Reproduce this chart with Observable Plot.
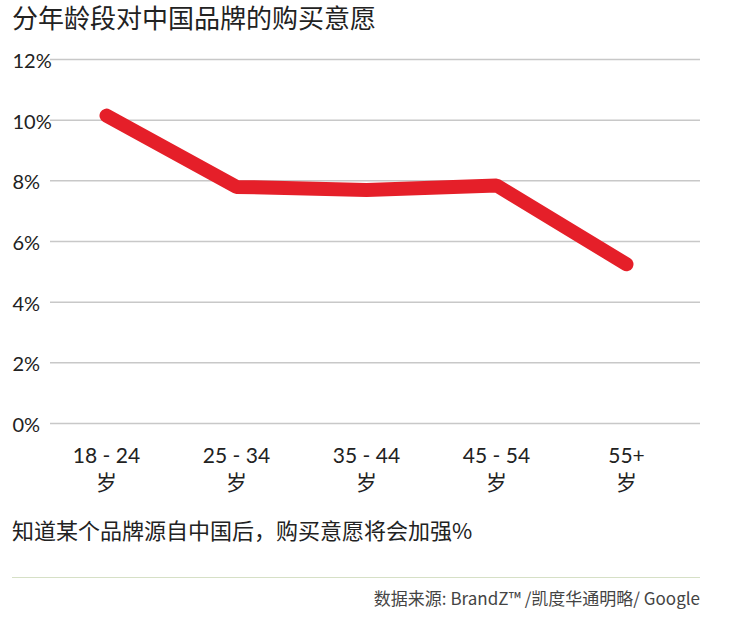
<!DOCTYPE html>
<html>
<head>
<meta charset="utf-8">
<script src="https://cdn.jsdelivr.net/npm/d3@7"></script>
<script src="https://cdn.jsdelivr.net/npm/@observablehq/plot@0.6"></script>
<style>
  body { margin: 0; background: #fff; font-family: Lato, "Noto Sans CJK SC", sans-serif; color: #222; }
  #wrap { position: relative; width: 752px; height: 621px; overflow: hidden; }
  #title { position: absolute; left: 12px; top: 2px; font-size: 26px; line-height: 30px; color: #222; font-family: "Noto Sans CJK SC", sans-serif; white-space: nowrap; }
  #chart { position: absolute; left: 0; top: 40px; }
  #caption { position: absolute; left: 12px; top: 514px; font-size: 22px; line-height: 30px; color: #222; font-family: "Noto Sans CJK SC", sans-serif; white-space: nowrap; }
  #sep { position: absolute; left: 12px; top: 577px; width: 688px; height: 0; border-top: 1.5px solid #d6e0c6; }
  #source { position: absolute; right: 52px; top: 585px; font-size: 17px; line-height: 26px; color: #444; font-family: "Noto Sans CJK SC", sans-serif; white-space: nowrap; }
</style>
</head>
<body>
<div id="wrap">
  <div id="title">分年龄段对中国品牌的购买意愿</div>
  <div id="chart"></div>
  <div id="caption">知道某个品牌源自中国后，购买意愿将会加强%</div>
  <div id="sep"></div>
  <div id="source">数据来源: BrandZ™ /凯度华通明略/ Google</div>
</div>
<script>
const ages = ["18 - 24", "25 - 34", "35 - 44", "45 - 54", "55+"];
const ageSuffix = "岁";
const values = [10.15, 7.8, 7.7, 7.85, 5.25];
const yTicks = [0, 2, 4, 6, 8, 10, 12];

const data = ages.map((a, i) => ({age: a, value: values[i]}));

const chart = Plot.plot({
  width: 752,
  height: 470,
  marginLeft: 50,
  marginRight: 52,
  marginTop: 19,
  marginBottom: 87,
  style: {fontFamily: 'Lato, "Noto Sans CJK SC", sans-serif', fontSize: "20px", color: "#222", background: "#fff"},
  x: {type: "point", domain: ages, range: [104, 627], padding: 0},
  y: {domain: [0, 12]},
  marks: [
    Plot.ruleY(yTicks, {stroke: "#c8c8c8", strokeWidth: 1.5}),
    Plot.axisY({ticks: yTicks, tickSize: 0, tickPadding: 0, textAnchor: "start", dx: -38, dy: 2,
      tickFormat: d => d + "%", fontSize: 20, fill: "#222", label: null}),
    Plot.axisX({tickSize: 0, tickPadding: 20, fontSize: 21, fill: "#222", lineHeight: 1.3, label: null,
      tickFormat: d => d + "\n" + ageSuffix}),
    Plot.line(data, {x: "age", y: "value", stroke: "#e51f29", strokeWidth: 14,
      strokeLinecap: "round", strokeLinejoin: "miter"})
  ]
});
document.getElementById("chart").appendChild(chart);
</script>
</body>
</html>
